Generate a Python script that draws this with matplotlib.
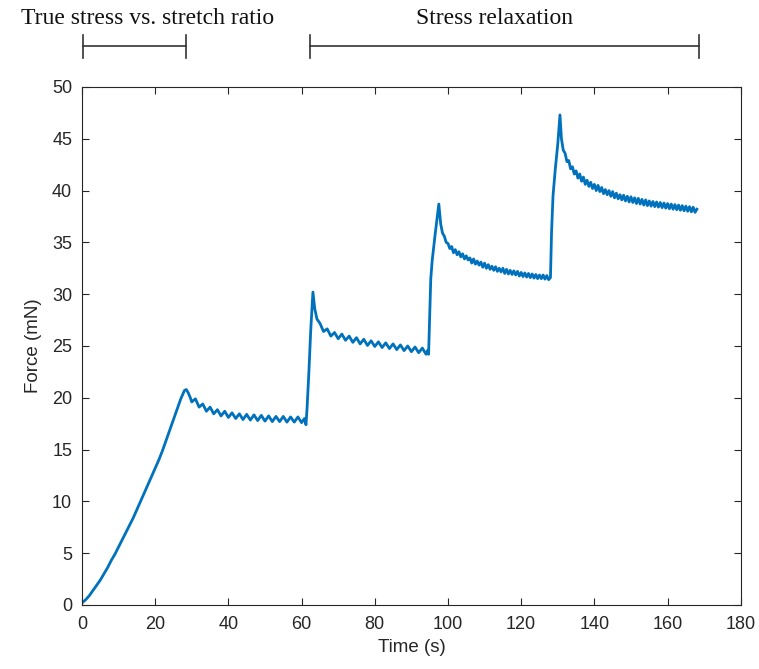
import matplotlib
matplotlib.use("Agg")
import matplotlib.pyplot as plt
import matplotlib.transforms as mtransforms

# ---- data ----
# loading ramp (0-28.5 s)
ramp_t = [0, 1, 2, 3, 4, 5, 6, 7, 8, 9, 10, 11, 12, 13, 14, 15, 16, 17, 18,
          19, 20, 21, 22, 23, 24, 25, 26, 27, 28, 28.5]
ramp_f = [0.2, 0.5, 0.9, 1.4, 1.9, 2.4, 3.0, 3.6, 4.3, 4.9, 5.6, 6.3, 7.0,
          7.7, 8.4, 9.2, 10.0, 10.8, 11.6, 12.4, 13.2, 14.0, 14.9, 15.9, 16.9,
          17.9, 18.9, 19.9, 20.7, 20.8]

# hold 1 (29-61 s)
hold1_t = [29, 29.5, 30, 31, 32, 33, 34, 35, 36, 37, 38, 39, 40, 41, 42, 43,
           44, 45, 46, 47, 48, 49, 50, 51, 52, 53, 54, 55, 56, 57, 58, 59, 60,
           60.8, 61.2]
hold1_f = [20.5, 20.1, 19.6, 19.9, 19.1, 19.4, 18.7, 19.1, 18.45, 18.85,
           18.25, 18.7, 18.1, 18.55, 18.0, 18.45, 17.9, 18.4, 17.85, 18.35,
           17.8, 18.3, 17.75, 18.25, 17.7, 18.2, 17.7, 18.2, 17.65, 18.15,
           17.65, 18.15, 17.6, 18.0, 17.4]

# step 2 + hold 2 (61.5-94.5 s)
hold2_t = [61.5, 62, 62.5, 63.1, 63.6, 64.2, 65, 66, 67, 68, 69, 70, 71, 72,
           73, 74, 75, 76, 77, 78, 79, 80, 81, 82, 83, 84, 85, 86, 87, 88, 89,
           90, 91, 92, 93, 94, 94.5]
hold2_f = [19.0, 22.5, 26.5, 30.2, 28.6, 27.6, 27.2, 26.4, 26.65, 25.95,
           26.3, 25.7, 26.15, 25.55, 25.95, 25.35, 25.8, 25.2, 25.65, 25.05,
           25.5, 24.95, 25.4, 24.85, 25.3, 24.75, 25.2, 24.65, 25.1, 24.55,
           25.0, 24.45, 24.9, 24.35, 24.8, 24.2, 24.6]

# step 3 + hold 3 (94.7-127.5 s)
hold3_t = [94.7, 95.0, 95.3, 95.7, 96.5, 97.5,
           98.0, 98.5, 99.0, 99.5, 100.0, 100.5, 101.0, 101.5, 102.0, 102.5,
           103.0, 103.5, 104.0, 104.5, 105.0, 105.5, 106.0, 106.5, 107.0,
           107.5, 108.0, 108.5, 109.0, 109.5, 110.0, 110.5, 111.0, 111.5,
           112.0, 112.5, 113.0, 113.5, 114.0, 114.5, 115.0, 115.5, 116.0,
           116.5, 117.0, 117.5, 118.0, 118.5, 119.0, 119.5, 120.0, 120.5,
           121.0, 121.5, 122.0, 122.5, 123.0, 123.5, 124.0, 124.5, 125.0,
           125.5, 126.0, 126.5, 127.0, 127.5]
hold3_f = [24.2, 28.0, 31.5, 33.3, 35.8, 38.7,
           36.8, 35.9, 35.6, 35.0, 34.9, 34.4, 34.6, 34.0, 34.3, 33.8,
           34.1, 33.6, 33.9, 33.4, 33.7, 33.3, 33.5, 33.0, 33.4,
           32.9, 33.2, 32.8, 33.1, 32.6, 33.0, 32.5, 32.85, 32.4,
           32.7, 32.3, 32.65, 32.2, 32.5, 32.15, 32.5, 32.0, 32.4,
           31.95, 32.3, 31.9, 32.25, 31.85, 32.2, 31.75, 32.1, 31.7,
           32.05, 31.65, 32.0, 31.6, 31.95, 31.55, 31.9, 31.5, 31.85,
           31.5, 31.85, 31.45, 31.8, 31.4]

# step 4 + hold 4 (128-168 s)
hold4_t = [128.0, 128.3, 128.7, 129.3, 130.0, 130.6,
           131.0, 131.5, 132.0, 132.5, 133.0, 133.5, 134.0, 134.5, 135.0,
           135.5, 136.0, 136.5, 137.0, 137.5, 138.0, 138.5, 139.0, 139.5,
           140.0, 140.5, 141.0, 141.5, 142.0, 142.5, 143.0, 143.5, 144.0,
           144.5, 145.0, 145.5, 146.0, 146.5, 147.0, 147.5, 148.0, 148.5,
           149.0, 149.5, 150.0, 150.5, 151.0, 151.5, 152.0, 152.5, 153.0,
           153.5, 154.0, 154.5, 155.0, 155.5, 156.0, 156.5, 157.0, 157.5,
           158.0, 158.5, 159.0, 159.5, 160.0, 160.5, 161.0, 161.5, 162.0,
           162.5, 163.0, 163.5, 164.0, 164.5, 165.0, 165.5, 166.0, 166.5,
           167.0, 167.5, 168.0]
hold4_f = [31.6, 36.0, 39.5, 42.0, 44.5, 47.3,
           45.0, 43.9, 43.6, 42.8, 42.9, 42.1, 42.3, 41.6, 41.9,
           41.2, 41.6, 40.9, 41.3, 40.6, 41.0, 40.4, 40.8, 40.2,
           40.6, 40.0, 40.5, 39.9, 40.3, 39.7, 40.1, 39.6, 40.0,
           39.45, 39.9, 39.3, 39.75, 39.2, 39.6, 39.1, 39.55, 39.0,
           39.45, 38.9, 39.4, 38.85, 39.3, 38.75, 39.25, 38.7, 39.15,
           38.6, 39.1, 38.55, 39.0, 38.5, 38.95, 38.45, 38.9, 38.4,
           38.85, 38.35, 38.8, 38.3, 38.75, 38.25, 38.7, 38.2, 38.65,
           38.15, 38.6, 38.1, 38.55, 38.05, 38.5, 38.0, 38.45, 37.95,
           38.4, 37.9, 38.2]

time_s = ramp_t + hold1_t + hold2_t + hold3_t + hold4_t
force_mN = ramp_f + hold1_f + hold2_f + hold3_f + hold4_f

x_ticks = [0, 20, 40, 60, 80, 100, 120, 140, 160, 180]
y_ticks = [0, 5, 10, 15, 20, 25, 30, 35, 40, 45, 50]

phase_labels = ["True stress vs. stretch ratio", "Stress relaxation"]
phase_start = [0.3, 62.3]
phase_end = [28.4, 168.6]
phase_label_x = [18.0, 112.7]

# ---- figure ----
fig = plt.figure(figsize=(7.59, 6.69), dpi=100)
ax = fig.add_axes([0.108, 0.0957, 0.868, 0.7743])

line_color = "#0072BD"
ax.plot(time_s, force_mN, color=line_color, lw=2.0, solid_joinstyle="round")

ax.set_xlim(0, 180)
ax.set_ylim(0, 50)
ax.set_xticks(x_ticks)
ax.set_yticks(y_ticks)

axis_color = "#262626"
for sp in ax.spines.values():
    sp.set_color(axis_color)
    sp.set_linewidth(0.8)
ax.tick_params(direction="in", top=True, right=True, length=5, width=0.8,
               colors=axis_color, labelsize=13, labelcolor=axis_color)
ax.tick_params(axis="y", pad=7)
ax.tick_params(axis="x", pad=8)
for lab in ax.get_xticklabels() + ax.get_yticklabels():
    lab.set_family("Liberation Sans")
ax.set_xlabel("Time (s)", fontsize=13.5, family="Liberation Sans",
              color=axis_color, labelpad=4)
ax.set_ylabel("Force (mN)", fontsize=13.5, family="Liberation Sans",
              color=axis_color, labelpad=7)

# ---- phase brackets above the axes ----
trans = mtransforms.blended_transform_factory(ax.transData, fig.transFigure)
y_bar = 1 - 46 / 669
y_tick_hi = 1 - 35 / 669
y_tick_lo = 1 - 58 / 669
y_txt = 1 - 19 / 669
for lab, xs, xe, xl in zip(phase_labels, phase_start, phase_end, phase_label_x):
    ax.plot([xs, xe], [y_bar, y_bar], color="#333333", lw=1.2,
            transform=trans, clip_on=False)
    for xv in (xs, xe):
        ax.plot([xv, xv], [y_tick_lo, y_tick_hi], color="#333333", lw=1.2,
                transform=trans, clip_on=False)
    ax.text(xl, y_txt, lab, transform=trans, ha="center", va="center",
            fontsize=17, family="Liberation Serif", color="#111111")

fig.savefig("out.png", dpi=100)
